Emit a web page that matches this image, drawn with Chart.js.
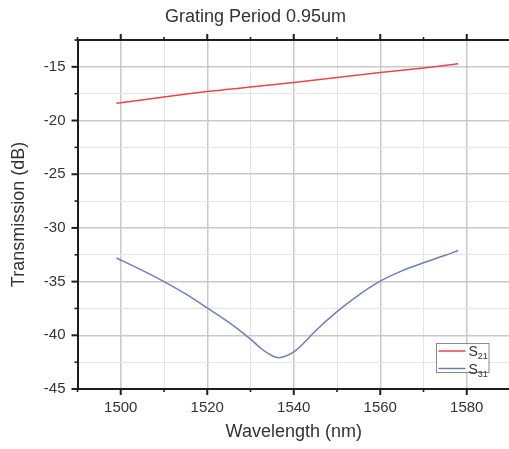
<!DOCTYPE html>
<html><head><meta charset="utf-8">
<script src="https://cdn.jsdelivr.net/npm/chart.js@4.4.1/dist/chart.umd.min.js"></script>
<style>
html,body{margin:0;padding:0;background:#fff;overflow:hidden;}
#wrap{width:509px;height:449px;overflow:hidden;position:relative;background:#fff;}
#box{width:520px;height:449px;}
</style></head><body>
<div id="wrap"><div id="box"><canvas id="c" width="520" height="449"></canvas></div></div>
<script>
const titleText = 'Grating Period 0.95um';
const xTitle = 'Wavelength (nm)';
const yTitle = 'Transmission (dB)';
const seriesNames = ['S21', 'S31'];
const s21Wavelength = [1499, 1510, 1520, 1530, 1540, 1550, 1560, 1570, 1578];
const s21Values = [-18.4, -17.8, -17.3, -16.88, -16.45, -16.0, -15.52, -15.1, -14.72];
const s31Wavelength = [1499, 1505, 1510, 1515, 1520, 1525, 1530, 1532.5, 1535, 1536.5, 1538, 1540, 1542.5, 1545, 1550, 1555, 1560, 1565, 1570, 1575, 1578];
const s31Values = [-32.8, -33.95, -35.0, -36.15, -37.45, -38.8, -40.35, -41.25, -41.9, -42.08, -41.95, -41.55, -40.65, -39.6, -37.8, -36.25, -34.95, -34.0, -33.25, -32.55, -32.1];
const xRange = [1490, 1590];
const yRange = [-45, -12.5];
const xMajorStep = 20, xMinorStep = 10;
const yMajorStep = 5, yMinorStep = 2.5;

const FONT = "'Liberation Sans', Arial, sans-serif";
const TEXT = '#333333';
const AXIS = '#1e1e1e';

function isMajor(v, step) {
  const r = Math.abs(v / step - Math.round(v / step));
  return r < 1e-6;
}

const frame = {
  id: 'frame',
  afterDraw(chart) {
    const ctx = chart.ctx;
    const a = chart.chartArea;
    const xs = chart.scales.x, ys = chart.scales.y;
    ctx.save();
    ctx.strokeStyle = AXIS;
    ctx.lineWidth = 2;
    ctx.beginPath();
    ctx.moveTo(a.left - 1, a.top);
    ctx.lineTo(a.right, a.top);
    ctx.stroke();
    xs.ticks.forEach(t => {
      const px = xs.getPixelForValue(t.value);
      const maj = isMajor(t.value, xMajorStep);
      const len = maj ? 6 : 3;
      ctx.lineWidth = maj ? 2 : 1.6;
      ctx.beginPath();
      ctx.moveTo(px, a.bottom); ctx.lineTo(px, a.bottom + len);
      ctx.moveTo(px, a.top); ctx.lineTo(px, a.top - len);
      ctx.stroke();
    });
    ys.ticks.forEach(t => {
      const py = ys.getPixelForValue(t.value);
      const maj = isMajor(t.value, yMajorStep);
      const len = maj ? 6 : 3;
      ctx.lineWidth = maj ? 2 : 1.6;
      ctx.beginPath();
      ctx.moveTo(a.left, py); ctx.lineTo(a.left - len, py);
      ctx.stroke();
    });
    const bx = 436.5, by = 343.5, bw = 52.5, bh = 29;
    ctx.fillStyle = 'rgba(255,255,255,0.9)';
    ctx.fillRect(bx, by, bw, bh);
    ctx.strokeStyle = '#8a8a8a';
    ctx.lineWidth = 1;
    ctx.strokeRect(bx, by, bw, bh);
    chart.data.datasets.forEach((ds, i) => {
      const ly = by + 7.5 + i * 17.5;
      ctx.strokeStyle = ds.borderColor;
      ctx.lineWidth = 1.5;
      ctx.beginPath();
      ctx.moveTo(bx + 2, ly); ctx.lineTo(bx + 29, ly);
      ctx.stroke();
      ctx.fillStyle = TEXT;
      ctx.textBaseline = 'alphabetic';
      ctx.textAlign = 'left';
      ctx.font = '14px ' + FONT;
      const main = ds.label.charAt(0);
      ctx.fillText(main, bx + 32, ly + 5);
      const w = ctx.measureText(main).width;
      ctx.font = '9px ' + FONT;
      ctx.fillText(ds.label.slice(1), bx + 32 + w, ly + 8);
    });
    ctx.restore();
  }
};

new Chart(document.getElementById('c'), {
  type: 'line',
  data: {
    datasets: [
      { label: seriesNames[0], data: s21Wavelength.map((x, i) => ({x, y: s21Values[i]})),
        borderColor: '#e8464f', borderWidth: 1.5, pointRadius: 0, cubicInterpolationMode: 'monotone', fill: false },
      { label: seriesNames[1], data: s31Wavelength.map((x, i) => ({x, y: s31Values[i]})),
        borderColor: '#6c80b3', borderWidth: 1.5, pointRadius: 0, cubicInterpolationMode: 'monotone', fill: false }
    ]
  },
  options: {
    responsive: false,
    animation: false,
    devicePixelRatio: 1,
    layout: { padding: { left: 0, right: 9, top: 0, bottom: 0 } },
    plugins: {
      legend: { display: false },
      tooltip: { enabled: false },
      title: { display: true, text: titleText, color: TEXT, font: { family: FONT, size: 18, weight: 'normal' },
        padding: { top: 6, bottom: 12.4 } }
    },
    scales: {
      x: {
        type: 'linear', position: 'bottom', min: xRange[0], max: xRange[1],
        afterFit(s) { s.height = 60; },
        border: { display: true, color: AXIS, width: 2 },
        grid: {
          drawTicks: false,
          color: c => isMajor(c.tick.value, xMajorStep) ? '#c9c9c9' : '#e4e4e4',
          lineWidth: c => isMajor(c.tick.value, xMajorStep) ? 1.5 : 1
        },
        ticks: {
          stepSize: xMinorStep, autoSkip: false, maxRotation: 0, padding: 10,
          color: TEXT, font: { family: FONT, size: 15 },
          callback: v => isMajor(v, xMajorStep) && v > xRange[0] && v < xRange[1] ? String(Math.round(v)) : ''
        },
        title: { display: true, text: xTitle, color: TEXT, font: { family: FONT, size: 18 }, padding: { top: 0, bottom: 6.4 } }
      },
      y: {
        type: 'linear', position: 'left', min: yRange[0], max: yRange[1],
        afterFit(s) { s.width = 77.5; },
        border: { display: true, color: AXIS, width: 2 },
        grid: {
          drawTicks: false,
          color: c => isMajor(c.tick.value, yMajorStep) ? '#c9c9c9' : '#e6e6e6',
          lineWidth: c => isMajor(c.tick.value, yMajorStep) ? 1.5 : 1
        },
        ticks: {
          stepSize: yMinorStep, autoSkip: false, padding: 12,
          color: TEXT, font: { family: FONT, size: 15 },
          callback: v => isMajor(v, yMajorStep) ? String(Math.round(v)) : ''
        },
        title: { display: true, text: yTitle, color: TEXT, font: { family: FONT, size: 18 }, padding: { top: 8, bottom: 0 } }
      }
    }
  },
  plugins: [frame]
});
</script>
</body></html>
